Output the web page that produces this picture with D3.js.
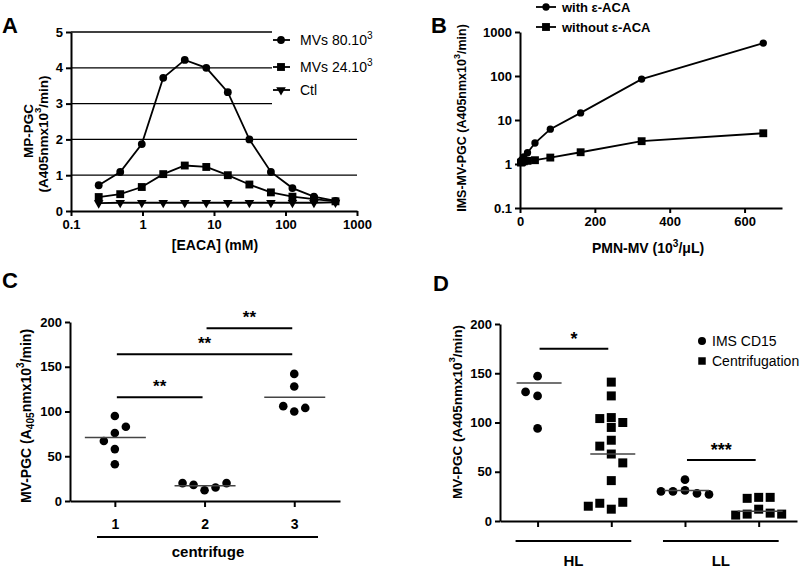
<!DOCTYPE html>
<html>
<head>
<meta charset="utf-8">
<script src="https://cdn.jsdelivr.net/npm/d3@7"></script>
<style>
  body { margin: 0; background: #fff; }
  svg { display: block; }
</style>
</head>
<body>
<script>
// ---------------- DATA ----------------
// Panel A
const eacaConc = [0.244, 0.488, 0.977, 1.95, 3.9, 7.8, 15.6, 31.25, 62.5, 125, 250, 500];
const mv80 = [0.72, 1.09, 1.87, 3.72, 4.22, 4.0, 3.32, 2.0, 1.09, 0.64, 0.4, 0.28];
const mv24 = [0.39, 0.47, 0.67, 1.03, 1.27, 1.23, 1.0, 0.74, 0.52, 0.4, 0.33, 0.27];
const ctlA = [0.22, 0.23, 0.23, 0.23, 0.23, 0.23, 0.23, 0.23, 0.23, 0.23, 0.23, 0.24];
const yTicksA = [0, 1, 2, 3, 4, 5];
const xTicksA = [0.1, 1, 10, 100, 1000];
const gridA = [1, 2, 3, 4, 5];

// Panel B
const pmnMV = [2.5, 5, 10, 20, 40, 81, 162, 325, 650];
const withACA = [1.15, 1.25, 1.45, 1.8, 3.0, 6.2, 14.5, 85, 560];
const withoutACA = [1.08, 1.1, 1.15, 1.18, 1.22, 1.4, 1.85, 3.3, 5.0];
const yTicksB = [0.1, 1, 10, 100, 1000];
const xTicksB = [0, 200, 400, 600];

// Panel C
const catsC = [1, 2, 3];
const c1 = [95, 83, 76, 67, 58, 41];
const c2 = [12, 15, 18, 20, 20];
const c3 = [142, 128, 100, 104, 106];
const meanC = [71, 17, 116];
const sigC = [
  { a: 1, b: 2, y: 116, label: "**" },
  { a: 1, b: 3, y: 164, label: "**" },
  { a: 2, b: 3, y: 193, label: "**" }
];
const yTicksC = [0, 50, 100, 150, 200];

// Panel D
const catsD = [1, 2, 3, 4];
const hlIMS = [147, 127, 131, 94];
const hlCent = [141, 127, 95, 104, 100, 105, 82, 76, 68, 59, 41, 12, 18, 19, 15];
const llIMS = [42, 31, 30, 28, 30, 27];
const llCent = [24, 23, 24, 12, 7, 8, 6, 7];
const lineD = [140, 68, 31, 10];
const sigD = [
  { a: 1, b: 2, y: 175, label: "*" },
  { a: 3, b: 4, y: 62, label: "***" }
];
const groupLabelsD = [{ a: 1, b: 2, label: "HL" }, { a: 3, b: 4, label: "LL" }];
const yTicksD = [0, 50, 100, 150, 200];

// ---------------- DRAWING ----------------
const FONT = "'Liberation Sans', Arial, Helvetica, sans-serif";
const fmt = d => String(d);
const svg = d3.select("body").append("svg")
  .attr("width", 800).attr("height", 569)
  .attr("font-family", FONT);

function styleAxis(g, fs = 13) {
  g.attr("font-family", FONT).attr("font-size", fs).attr("font-weight", "bold");
  g.selectAll("path, line").attr("stroke", "#000").attr("stroke-width", 2);
  g.selectAll("text").attr("fill", "#000");
}

function richText(sel, parts, fs) {
  let shift = 0;
  parts.forEach(([t, kind]) => {
    const ts = sel.append("tspan").text(t);
    const target = kind === "sup" ? -fs * 0.42 : kind === "sub" ? fs * 0.25 : 0;
    if (target !== shift) { ts.attr("dy", target - shift); shift = target; }
    if (kind) ts.attr("font-size", fs * 0.72);
  });
}

function vLabel(x, y, parts, fs, weight = "bold") {
  const t = svg.append("text")
    .attr("transform", `translate(${x},${y}) rotate(-90)`)
    .attr("text-anchor", "middle")
    .attr("dominant-baseline", "central")
    .attr("font-size", fs).attr("font-weight", weight).attr("fill", "#000");
  richText(t, parts, fs);
  return t;
}

function panelLabel(x, y, s) {
  svg.append("text").attr("x", x).attr("y", y).text(s)
    .attr("font-size", 22).attr("font-weight", "bold").attr("fill", "#000");
}

const sym = {
  circle: d3.symbol().type(d3.symbolCircle),
  square: d3.symbol().type(d3.symbolSquare),
  tri: d3.symbol().type(d3.symbolTriangle)
};
function marker(g, shape, x, y, size) {
  const p = g.append("path").attr("d", sym[shape].size(size)()).attr("fill", "#000");
  if (shape === "tri") p.attr("transform", `translate(${x},${y}) rotate(180)`);
  else p.attr("transform", `translate(${x},${y})`);
}

// simple beeswarm: places points side by side when they would overlap
function swarm(values, xc, yScale, step, minDist, firstDir) {
  const placed = [];
  let dir = firstDir;
  return values.map(v => {
    const y = yScale(v);
    for (let k = 0; k < 30; k++) {
      const cands = k === 0 ? [0] : [dir * k, -dir * k];
      for (const o of cands) {
        const x = xc + o * step;
        if (placed.every(p => Math.hypot(p.x - x, p.y - y) >= minDist)) {
          if (o !== 0) dir = o > 0 ? -1 : 1;
          const pt = { x, y, v };
          placed.push(pt);
          return pt;
        }
      }
    }
  });
}

// ============ PANEL A ============
{
  const xA = d3.scaleLog().domain([0.1, 1000]).range([71, 357]);
  const yA = d3.scaleLinear().domain([0, 5]).range([211, 32]);
  const g = svg.append("g");

  // grid lines (short ones stop at the legend)
  gridA.forEach(v => {
    g.append("line")
      .attr("x1", xA(0.1)).attr("x2", v >= 3 ? 272 : xA(1000))
      .attr("y1", yA(v)).attr("y2", yA(v))
      .attr("stroke", "#000").attr("stroke-width", 1.3);
  });

  const gx = g.append("g").attr("transform", `translate(0,${yA(0)})`)
    .call(d3.axisBottom(xA).tickValues(xTicksA).tickFormat(fmt).tickSize(5).tickSizeOuter(0).tickPadding(4));
  styleAxis(gx);
  const gy = g.append("g").attr("transform", `translate(${xA(0.1)},0)`)
    .call(d3.axisLeft(yA).tickValues(yTicksA).tickFormat(fmt).tickSize(5).tickSizeOuter(0).tickPadding(3));
  styleAxis(gy);

  const line = d3.line().x((d, i) => xA(eacaConc[i])).y(d => yA(d));
  const series = [
    { data: mv80, shape: "circle", size: 48 },
    { data: mv24, shape: "square", size: 62 },
    { data: ctlA, shape: "tri", size: 40 }
  ];
  series.forEach(s => {
    g.append("path").attr("d", line(s.data)).attr("fill", "none")
      .attr("stroke", "#000").attr("stroke-width", 1.8);
    s.data.forEach((v, i) => marker(g, s.shape, xA(eacaConc[i]), yA(v), s.size));
  });

  // legend
  const legA = [
    { shape: "circle", size: 48, parts: [["MVs  80.10", null], ["3", "sup"]] },
    { shape: "square", size: 62, parts: [["MVs  24.10", null], ["3", "sup"]] },
    { shape: "tri", size: 40, parts: [["Ctl", null]] }
  ];
  const legY = [40, 67, 90];
  legA.forEach((d, i) => {
    g.append("line").attr("x1", 273).attr("x2", 290).attr("y1", legY[i]).attr("y2", legY[i])
      .attr("stroke", "#000").attr("stroke-width", 1.8);
    marker(g, d.shape, 281, legY[i], d.size);
    const t = g.append("text").attr("x", 300).attr("y", legY[i] + 5)
      .attr("font-size", 14).attr("fill", "#000");
    richText(t, d.parts, 14);
  });

  panelLabel(2, 33, "A");
  vLabel(28, 131, [["MP-PGC", null]], 13.5);
  vLabel(43, 134, [["(A405nmx10", null], ["3", "sup"], ["/min)", null]], 13.5);
  g.append("text").attr("x", 215).attr("y", 250).attr("text-anchor", "middle")
    .attr("font-size", 14).attr("font-weight", "bold").text("[EACA] (mM)");
}

// ============ PANEL B ============
{
  const xB = d3.scaleLinear().domain([0, 700]).range([520, 782]);
  const yB = d3.scaleLog().domain([0.1, 1000]).range([208, 32]);
  const g = svg.append("g");

  const gx = g.append("g").attr("transform", `translate(0,${yB(0.1)})`)
    .call(d3.axisBottom(xB).tickValues(xTicksB).tickFormat(fmt).tickSize(5).tickSizeOuter(0).tickPadding(4));
  styleAxis(gx);
  const gy = g.append("g").attr("transform", `translate(${xB(0)},0)`)
    .call(d3.axisLeft(yB).tickValues(yTicksB).tickFormat(fmt).tickSize(5).tickSizeOuter(0).tickPadding(3));
  styleAxis(gy);

  const line = d3.line().x((d, i) => xB(pmnMV[i])).y(d => yB(d));
  const series = [
    { data: withACA, shape: "circle", size: 42 },
    { data: withoutACA, shape: "square", size: 62 }
  ];
  series.forEach(s => {
    g.append("path").attr("d", line(s.data)).attr("fill", "none")
      .attr("stroke", "#000").attr("stroke-width", 1.8);
    s.data.forEach((v, i) => marker(g, s.shape, xB(pmnMV[i]), yB(v), s.size));
  });

  const legB = [
    { shape: "circle", size: 42, text: "with ε-ACA" },
    { shape: "square", size: 62, text: "without ε-ACA" }
  ];
  const legY = [7, 27];
  legB.forEach((d, i) => {
    g.append("line").attr("x1", 536).attr("x2", 556).attr("y1", legY[i]).attr("y2", legY[i])
      .attr("stroke", "#000").attr("stroke-width", 1.8);
    marker(g, d.shape, 546, legY[i], d.size);
    g.append("text").attr("x", 562).attr("y", legY[i] + 5)
      .attr("font-size", 13).attr("font-weight", "bold").text(d.text);
  });

  panelLabel(431, 33, "B");
  vLabel(462, 118, [["IMS-MV-PGC (A405nmx10", null], ["3", "sup"], ["/min)", null]], 12.5);
  const t = g.append("text").attr("x", 648).attr("y", 253).attr("text-anchor", "middle")
    .attr("font-size", 14).attr("font-weight", "bold");
  richText(t, [["PMN-MV (10", null], ["3", "sup"], ["/μL)", null]], 14);
}

// ============ PANEL C ============
{
  const xC = d3.scaleLinear().domain([0.5, 3.51]).range([70, 340]);
  const yC = d3.scaleLinear().domain([0, 200]).range([501, 322]);
  const g = svg.append("g");

  const gy = g.append("g").attr("transform", `translate(${xC(0.5)},0)`)
    .call(d3.axisLeft(yC).tickValues(yTicksC).tickFormat(fmt).tickSize(5).tickSizeOuter(0).tickPadding(3));
  styleAxis(gy);
  const gx = g.append("g").attr("transform", `translate(0,${yC(0)})`)
    .call(d3.axisBottom(xC).tickValues(catsC).tickFormat(fmt).tickSize(6).tickSizeOuter(0).tickPadding(12));
  styleAxis(gx, 14);

  [c1, c2, c3].forEach((vals, i) => {
    const pts = swarm(vals, xC(catsC[i]), yC, 11, 11, 1);
    pts.forEach(p => marker(g, "circle", p.x, p.y, 58));
    g.append("line")
      .attr("x1", xC(catsC[i]) - 30).attr("x2", xC(catsC[i]) + 31)
      .attr("y1", yC(meanC[i])).attr("y2", yC(meanC[i]))
      .attr("stroke", "#444").attr("stroke-width", 1.5);
  });

  sigC.forEach(s => {
    const x1 = xC(s.a) + 2, x2 = xC(s.b) - 2;
    g.append("line").attr("x1", x1).attr("x2", x2)
      .attr("y1", yC(s.y)).attr("y2", yC(s.y))
      .attr("stroke", "#000").attr("stroke-width", 2);
    g.append("text").attr("x", (x1 + x2) / 2).attr("y", yC(s.y) - 5)
      .attr("text-anchor", "middle").attr("font-size", 17).attr("font-weight", "bold")
      .text(s.label);
  });

  g.append("line").attr("x1", 97).attr("x2", 318).attr("y1", 537).attr("y2", 537)
    .attr("stroke", "#000").attr("stroke-width", 2);
  g.append("text").attr("x", 208).attr("y", 557).attr("text-anchor", "middle")
    .attr("font-size", 15).attr("font-weight", "bold").text("centrifuge");

  panelLabel(2, 288, "C");
  vLabel(26, 416, [["MV-PGC (A", null], ["405", "sub"], ["nmx10", null], ["3", "sup"], ["/min)", null]], 14);
}

// ============ PANEL D ============
{
  const xD = d3.scaleLinear().domain([0.49, 4.52]).range([500, 797]);
  const yD = d3.scaleLinear().domain([0, 200]).range([521, 324]);
  const g = svg.append("g");

  const gy = g.append("g").attr("transform", `translate(${xD(0.49)},0)`)
    .call(d3.axisLeft(yD).tickValues(yTicksD).tickFormat(fmt).tickSize(5).tickSizeOuter(0).tickPadding(3));
  styleAxis(gy);
  const gx = g.append("g").attr("transform", `translate(0,${yD(0)})`)
    .call(d3.axisBottom(xD).tickValues(catsD).tickFormat("").tickSize(6).tickSizeOuter(0));
  styleAxis(gx);

  const groups = [
    { vals: hlIMS, shape: "circle", step: 6, min: 7.5 },
    { vals: hlCent, shape: "square", step: 11.5, min: 9.5 },
    { vals: llIMS, shape: "circle", step: 6, min: 7.5 },
    { vals: llCent, shape: "square", step: 11.5, min: 9.5 }
  ];
  groups.forEach((gr, i) => {
    const pts = swarm(gr.vals, xD(catsD[i]), yD, gr.step, gr.min, -1);
    pts.forEach(p => marker(g, gr.shape, p.x, p.y, gr.shape === "circle" ? 60 : 81));
    g.append("line")
      .attr("x1", xD(catsD[i]) - 21).attr("x2", xD(catsD[i]) + 24)
      .attr("y1", yD(lineD[i])).attr("y2", yD(lineD[i]))
      .attr("stroke", "#444").attr("stroke-width", 1.5);
  });

  sigD.forEach(s => {
    const x1 = xD(s.a) + 2, x2 = xD(s.b) - 3;
    g.append("line").attr("x1", x1).attr("x2", x2)
      .attr("y1", yD(s.y)).attr("y2", yD(s.y))
      .attr("stroke", "#000").attr("stroke-width", 2);
    g.append("text").attr("x", (x1 + x2) / 2).attr("y", yD(s.y) - 4)
      .attr("text-anchor", "middle").attr("font-size", 18).attr("font-weight", "bold")
      .text(s.label);
  });

  groupLabelsD.forEach(d => {
    const x1 = xD(d.a) - 22, x2 = xD(d.b) + 20;
    g.append("line").attr("x1", x1).attr("x2", x2).attr("y1", 541).attr("y2", 541)
      .attr("stroke", "#000").attr("stroke-width", 2);
    g.append("text").attr("x", (x1 + x2) / 2).attr("y", 566).attr("text-anchor", "middle")
      .attr("font-size", 15).attr("font-weight", "bold").text(d.label);
  });

  // legend
  marker(g, "circle", 702, 341, 50);
  g.append("text").attr("x", 712).attr("y", 346).attr("font-size", 14).text("IMS CD15");
  marker(g, "square", 702, 361, 56);
  g.append("text").attr("x", 712).attr("y", 366).attr("font-size", 14).text("Centrifugation");

  panelLabel(433, 291, "D");
  vLabel(457, 412, [["MV-PGC (A405nmx10", null], ["3", "sup"], ["/min)", null]], 13.5);
}
</script>
</body>
</html>
